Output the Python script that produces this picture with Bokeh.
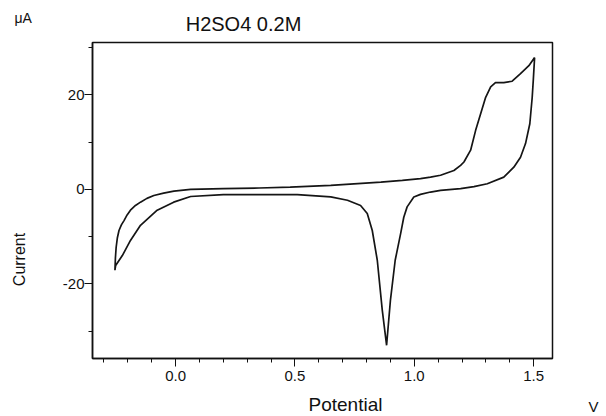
import math
from bokeh.plotting import figure
from bokeh.models import Label, SingleIntervalTicker, NumeralTickFormatter, Range1d
from bokeh.embed import file_html
from bokeh.resources import INLINE

# Cyclic voltammogram, H2SO4 0.2M (potential in V, current in uA)
# anodic sweep (left -> right) followed by cathodic sweep (right -> left)
potential = [
    -0.254, -0.252, -0.249, -0.244, -0.237, -0.227, -0.216, -0.203, -0.189, -0.168,
    -0.147, -0.120, -0.091, -0.050, -0.007, 0.063, 0.20, 0.35, 0.48, 0.65,
    0.86, 0.95, 1.026, 1.068, 1.11, 1.166, 1.194, 1.208, 1.236, 1.257,
    1.278, 1.299, 1.32, 1.34, 1.375, 1.41, 1.445, 1.48, 1.504,
    1.499, 1.494, 1.484, 1.466, 1.445, 1.417, 1.375, 1.306, 1.25, 1.194,
    1.11, 1.068, 1.026, 0.998, 0.97, 0.956, 0.943, 0.92, 0.90, 0.884,
    0.866, 0.845, 0.824, 0.803, 0.775, 0.72, 0.65, 0.51, 0.44, 0.20,
    0.063, -0.008, -0.077, -0.147, -0.189, -0.223, -0.251, -0.254,
]
current = [
    -17.1, -14.5, -12.3, -10.3, -8.7, -7.5, -6.6, -5.4, -4.4, -3.4,
    -2.7, -1.9, -1.3, -0.8, -0.35, 0.0, 0.15, 0.3, 0.5, 0.85,
    1.55, 1.9, 2.3, 2.6, 3.0, 4.0, 5.1, 5.8, 8.3, 12.5,
    16.0, 19.5, 21.7, 22.6, 22.6, 22.9, 24.5, 26.2, 27.9,
    23.5, 19.5, 13.9, 9.7, 6.8, 4.7, 2.6, 1.2, 0.6, 0.15,
    -0.2, -0.56, -1.06, -1.6, -3.7, -5.9, -9.3, -15.0, -23.5, -33.0,
    -25.6, -15.0, -8.7, -5.1, -3.4, -2.3, -1.6, -1.1, -1.1, -1.1,
    -1.5, -2.7, -4.4, -7.6, -10.8, -14.0, -16.1, -17.1,
]

title_text = "H2SO4 0.2M"
x_label = "Potential"
y_label = "Current"
x_unit = "V"
y_unit = "\u03bcA"

FONT = "Liberation Sans"
INK = "#111111"

p = figure(
    width=606, height=416,
    output_backend="svg", toolbar_location=None,
    x_range=Range1d(-0.348, 1.579), y_range=Range1d(-35.8, 31.1),
    min_border_left=92, min_border_right=54, min_border_top=42, min_border_bottom=58,
)
p.title.visible = False
p.grid.visible = False
p.background_fill_color = "white"
p.border_fill_color = "white"
p.outline_line_color = INK
p.outline_line_width = 1.5

p.line(potential, current, line_color="#151515", line_width=1.7)

# axes
p.xaxis.ticker = SingleIntervalTicker(interval=0.5, num_minor_ticks=5)
p.xaxis.formatter = NumeralTickFormatter(format="0.0")
p.yaxis.ticker = SingleIntervalTicker(interval=20, num_minor_ticks=2)
p.yaxis.formatter = NumeralTickFormatter(format="0")
for ax in (p.xaxis, p.yaxis):
    ax.axis_line_color = INK
    ax.axis_line_width = 1.5
    ax.major_tick_line_color = INK
    ax.minor_tick_line_color = INK
    ax.major_tick_in = 0
    ax.minor_tick_in = 0
    ax.major_tick_out = 8
    ax.minor_tick_out = 4
    ax.major_label_text_font = FONT
    ax.major_label_text_font_size = "15px"
    ax.major_label_text_color = INK
p.xaxis.major_label_standoff = 4
p.yaxis.major_label_standoff = 0


def lab(text, x, y, size, align="center", angle=0.0):
    return Label(x=x, y=y, x_units="screen", y_units="screen", text=text,
                 text_font=FONT, text_font_size=size, text_align=align,
                 text_baseline="middle", angle=angle, text_color=INK)


# texts placed in side panels (screen units relative to each panel)
p.add_layout(lab(title_text, 151, 19, "20px"), "above")
p.add_layout(lab(y_label, -23, 99, "16px", angle=math.pi / 2), "left")
p.add_layout(lab(y_unit, -11, 341, "14px", align="left"), "left")
p.add_layout(lab(x_label, 253, 0, "19px"), "below")
p.add_layout(lab(x_unit, 36, -48, "15px", align="left"), "right")

open("out.html", "w").write(file_html(p, INLINE))
